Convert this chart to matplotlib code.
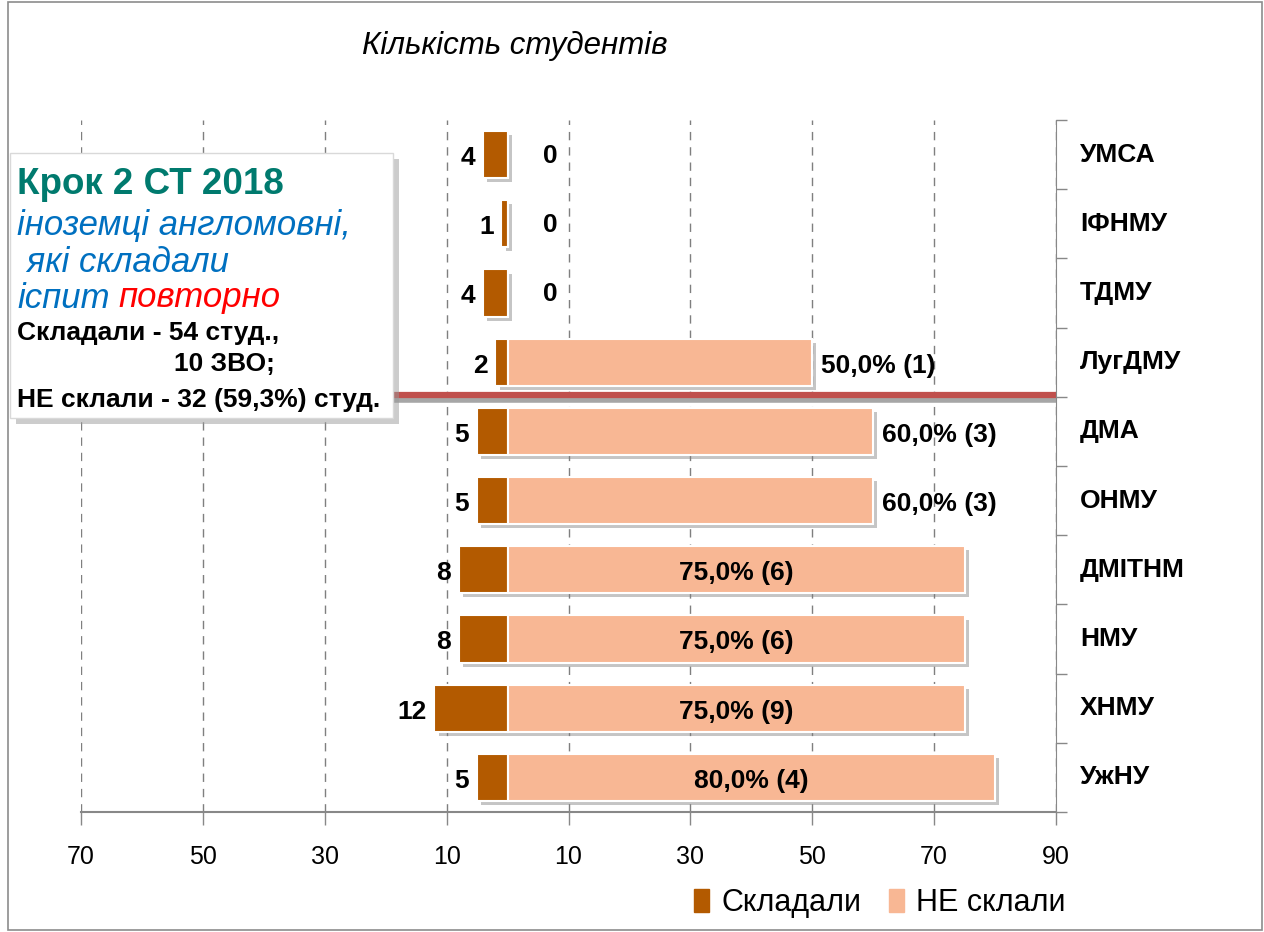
import matplotlib
matplotlib.use('Agg')
import matplotlib.pyplot as plt
import matplotlib.patheffects as pe
import matplotlib.transforms as mtransforms
from matplotlib.patches import Rectangle, Patch
from matplotlib.text import Annotation
import numpy as np

plt.rcParams['font.family'] = ['Liberation Sans', 'DejaVu Sans']

# data
universities = ['УМСА', 'ІФНМУ', 'ТДМУ', 'ЛугДМУ', 'ДМА', 'ОНМУ', 'ДМІТНМ', 'НМУ', 'ХНМУ', 'УжНУ']
sat = [4, 1, 4, 2, 5, 5, 8, 8, 12, 5]                 # Складали
failed_pct = [0, 0, 0, 50.0, 60.0, 60.0, 75.0, 75.0, 75.0, 80.0]   # НЕ склали, %
failed_cnt = [0, 0, 0, 1, 3, 3, 6, 6, 9, 4]
xticks = [-70, -50, -30, -10, 10, 30, 50, 70, 90]

dark = '#B35A00'
light = '#F8B794'

fig = plt.figure(figsize=(12.64, 9.32), dpi=100)
ax = fig.add_axes([81 / 1264, 1 - 812 / 932, 975 / 1264, 692 / 932])

y = np.arange(len(universities))
shadow = [pe.SimplePatchShadow(offset=(3, -3), shadow_rgbFace='#808080', alpha=0.45), pe.Normal()]
b1 = ax.barh(y, [-v for v in sat], height=0.68, color=dark, edgecolor='white', linewidth=1.5, zorder=3)
b2 = ax.barh(y, failed_pct, height=0.68, color=light, edgecolor='white', linewidth=1.5, zorder=3)
for b in list(b1) + list(b2):
    b.set_path_effects(shadow)

# bar labels
for i in range(len(universities)):
    ax.text(-sat[i] - 1.3, y[i] + 0.05, str(sat[i]), ha='right', va='center',
            fontsize=19, fontweight='bold', zorder=4)
    p = failed_pct[i]
    if p == 0:
        ax.text(7, y[i] + 0.02, '0', ha='center', va='center', fontsize=19, fontweight='bold', zorder=4)
    else:
        lab = f'{p:.1f}'.replace('.', ',') + f'% ({failed_cnt[i]})'
        if p < 70:
            ax.text(p + 1.5, y[i] + 0.05, lab, ha='left', va='center', fontsize=19, fontweight='bold', zorder=4)
        else:
            ax.text(p / 2, y[i] + 0.05, lab, ha='center', va='center', fontsize=19, fontweight='bold', zorder=4)

ax.set_xlim(-70, 90)
ax.set_ylim(len(universities) - 0.5, -0.5)
ax.set_xticks(xticks)
ax.set_xticklabels([str(abs(t)) for t in xticks], fontsize=18)
ax.tick_params(axis='x', length=9, width=1, color='#888888', pad=15, direction='out')
ax.xaxis.grid(True, linestyle=(0, (6, 5)), color='#7f7f7f', linewidth=1)
ax.set_axisbelow(True)

# category axis on the right, ticks between categories
ax.yaxis.tick_right()
ax.set_yticks(np.arange(-0.5, len(universities) + 0.5, 1))
ax.set_yticklabels([])
ax.tick_params(axis='y', length=8, width=1, color='#888888', direction='out')
lab_tr = mtransforms.blended_transform_factory(mtransforms.IdentityTransform(), ax.transData)
for i, name in enumerate(universities):
    ax.text(1080, y[i], name, transform=lab_tr, fontsize=19, fontweight='bold',
            ha='left', va='center')

for s in ['top', 'left']:
    ax.spines[s].set_visible(False)
ax.spines['right'].set_color('#888888')
ax.spines['bottom'].set_color('#888888')
ax.spines['bottom'].set_linewidth(1.5)

# red separation line with grey shadow
ax.plot([-70, 90], [3.55, 3.55], color='#a6a6a6', linewidth=4, zorder=2)
ax.plot([-70, 90], [3.48, 3.48], color='#C0504D', linewidth=4.5, zorder=2.5, solid_capstyle='butt')

fig.text(362 / 1264, 1 - 46 / 932, 'Кількість студентів', fontsize=22.5, fontstyle='italic',
         ha='left', va='center')

# text box with shadow
fig.patches.append(Rectangle((16 / 1264, 1 - 424 / 932), 383 / 1264, 265 / 932, transform=fig.transFigure,
                             facecolor='#9a9a9a', edgecolor='none', alpha=0.5, zorder=5))
fig.patches.append(Rectangle((10 / 1264, 1 - 418 / 932), 383 / 1264, 265 / 932, transform=fig.transFigure,
                             facecolor='white', edgecolor='#d9d9d9', linewidth=1, zorder=6))
fig.text(17 / 1264, 1 - 184 / 932, 'Крок 2 СТ 2018', fontsize=26.5, fontweight='bold', color='#007A6E',
         ha='left', va='center', zorder=7)
fig.text(17 / 1264, 1 - 225 / 932, 'іноземці англомовні,', fontsize=25, fontstyle='italic', color='#0070C0',
         ha='left', va='center', zorder=7)
fig.text(17 / 1264, 1 - 262 / 932, ' які складали', fontsize=25, fontstyle='italic', color='#0070C0',
         ha='left', va='center', zorder=7)
t1 = fig.text(17 / 1264, 1 - 298 / 932, 'іспит', fontsize=25, fontstyle='italic', color='#0070C0',
              ha='left', va='center', zorder=7)
fig.add_artist(Annotation('повторно', xy=(1, 0.5), xycoords=t1, xytext=(6, 0), textcoords='offset points',
                          fontsize=25, fontstyle='italic', color='#FF0000', ha='left', va='center', zorder=7))
fig.text(17 / 1264, 1 - 333 / 932, 'Складали - 54 студ.,', fontsize=19, fontweight='bold',
         ha='left', va='center', zorder=7)
fig.text(275 / 1264, 1 - 364 / 932, '10 ЗВО;', fontsize=19, fontweight='bold',
         ha='right', va='center', zorder=7)
fig.text(17 / 1264, 1 - 400 / 932, 'НЕ склали - 32 (59,3%) студ.', fontsize=19, fontweight='bold',
         ha='left', va='center', zorder=7)

# outer border
fig.patches.append(Rectangle((8 / 1264, 0.002), 1254 / 1264, 0.996, transform=fig.transFigure,
                             facecolor='none', edgecolor='#8c8c8c', linewidth=1.2, zorder=1))

fig.legend(handles=[Patch(color=dark, label='Складали'), Patch(color=light, label='НЕ склали')],
           loc='center right', bbox_to_anchor=(1066 / 1264, 1 - 903 / 932), ncol=2, frameon=False,
           borderaxespad=0, borderpad=0,
           fontsize=22, handlelength=0.5, handleheight=0.8, handletextpad=0.4, columnspacing=0.9)

fig.savefig('out.png', dpi=100)
